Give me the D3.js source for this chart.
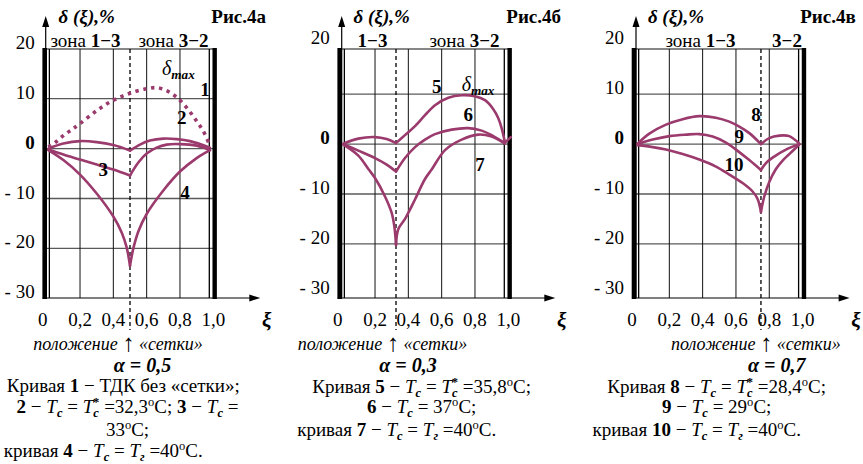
<!DOCTYPE html>
<html><head><meta charset="utf-8">
<script src="https://cdn.jsdelivr.net/npm/d3@7"></script>
<style>
body{margin:0;background:#fff}
svg{display:block}
</style>
</head><body>
<svg id="c" width="863" height="464" font-family="'Liberation Serif', 'Times New Roman', 'DejaVu Serif', serif"></svg>
<script>
// ---------- data ----------
const xTicks = [0, 0.2, 0.4, 0.6, 0.8, 1.0];
const xTickLabels = ["0", "0,2", "0,4", "0,6", "0,8", "1,0"];
const yTicksFull = [20, 10, 0, -10, -20, -30];
const yTickLabelsFull = ["20", "10", "0", "- 10", "- 20", "- 30"];
const yTicksB = [20, 0, -10, -20, -30];
const yTickLabelsB = ["20", "0", "- 10", "- 20", "- 30"];
const gridValues = [10, 0, -10, -20];
const figNames = ["Рис.4а", "Рис.4б", "Рис.4в"];
const alphaLabels = ["0,5", "0,3", "0,7"];
const gridPos = [0.5, 0.326, 0.75];

// Рис.4а
const curve1 = [[0.01,0.3],[0.05,1.2],[0.1,2.6],[0.15,3.8],[0.2,5.0],[0.3,7.6],[0.4,9.7],[0.5,11.1],[0.6,12.0],[0.66,12.2],[0.72,11.6],[0.78,10.3],[0.84,8.2],[0.9,5.5],[0.94,3.5],[0.98,0.6]];
const curve2 = [[0.01,0],[0.1,1.0],[0.2,1.5],[0.3,1.3],[0.4,0.7],[0.5,-0.4],[0.56,0.8],[0.62,1.6],[0.7,2.0],[0.78,1.9],[0.86,1.5],[0.98,0.2]];
const curve3 = [[0.01,-0.2],[0.1,-1.2],[0.2,-2.2],[0.3,-3.2],[0.4,-4.2],[0.5,-5.4],[0.55,-2.8],[0.6,-1.0],[0.66,0.2],[0.72,0.8],[0.8,0.9],[0.9,0.6],[0.98,-0.3]];
const curve4 = [[0.01,-0.3],[0.1,-2.3],[0.2,-5.2],[0.3,-9.0],[0.4,-13.6],[0.45,-16.8],[0.48,-19.8],[0.5,-23.5],[0.52,-20.0],[0.55,-16.6],[0.6,-13.1],[0.7,-8.4],[0.8,-4.6],[0.9,-1.9],[0.98,-0.3]];
// Рис.4б
const curve5 = [[0.01,0.1],[0.1,1.1],[0.2,1.4],[0.27,1.0],[0.326,0.2],[0.38,1.8],[0.44,3.6],[0.5,5.8],[0.56,7.8],[0.64,9.3],[0.72,9.8],[0.8,9.6],[0.86,8.8],[0.91,7.0],[0.94,5.2],[0.96,3.2],[0.98,0.3],[1.015,1.4]];
const curve6 = [[0.01,0],[0.1,-1.3],[0.2,-2.8],[0.27,-4.1],[0.326,-5.5],[0.38,-2.8],[0.44,-0.6],[0.5,0.9],[0.56,2.0],[0.66,2.9],[0.76,3.2],[0.84,2.7],[0.9,1.8],[0.98,0.2]];
const curve7 = [[0.01,-0.1],[0.1,-2.3],[0.16,-5.0],[0.2,-6.8],[0.26,-10.5],[0.3,-13.8],[0.316,-16.5],[0.326,-20.2],[0.34,-17.0],[0.38,-15.0],[0.44,-11.1],[0.5,-7.0],[0.54,-5.1],[0.62,-1.2],[0.72,0.9],[0.82,1.9],[0.9,1.5],[0.98,0.1]];
// Рис.4в
const curve8 = [[0.01,0.1],[0.08,2.1],[0.18,3.9],[0.28,5.0],[0.38,5.6],[0.48,5.3],[0.56,4.5],[0.62,3.5],[0.68,2.2],[0.75,0.0],[0.8,1.2],[0.86,1.7],[0.92,1.6],[0.98,0.1]];
const curve9 = [[0.01,0],[0.1,0.9],[0.2,1.6],[0.3,1.9],[0.38,2.0],[0.46,1.5],[0.54,0.3],[0.6,-1.1],[0.68,-3.2],[0.75,-5.2],[0.78,-3.8],[0.82,-2.7],[0.9,-1.1],[0.98,0]];
const curve10 = [[0.01,-0.2],[0.1,-0.6],[0.18,-1.1],[0.28,-2.0],[0.38,-3.1],[0.48,-4.5],[0.56,-6.1],[0.64,-7.8],[0.7,-9.5],[0.73,-11.0],[0.75,-13.6],[0.77,-10.5],[0.8,-7.6],[0.84,-5.0],[0.88,-3.3],[0.92,-2.0],[0.98,-0.1]];

const panelCurves = [[curve2, curve3, curve4], [curve5, curve6, curve7], [curve8, curve9, curve10]];
const curveNames = [["1","2","3","4"], ["5","6","7"], ["8","9","10"]];

// ---------- layout ----------
const svg = d3.select("#c");
const COL = "#9b3a6c";
const FRAME_TOP = 49, AXIS_Y = 298;
const panels = [
  {x0: 46.7, y20: 48.8, ticks: yTicksFull, tickLabels: yTickLabelsFull, yAxisDx: -1,
   zones: [{x: 85.5, parts: [["зона ",""],["1−3","b"]]}, {x: 173.5, parts: [["зона ",""],["3−2","b"]]}],
   dmax: [162, 75], nums: [[205,90],[181.7,118.3],[103.3,170],[185,193.3]],
   capX: 118, alphaX: 142.5},
  {x0: 341.7, y20: 44.3, ticks: yTicksB, tickLabels: yTickLabelsB, yAxisDx: 0,
   zones: [{x: 372.5, parts: [["1−3","b"]]}, {x: 464.5, parts: [["зона ",""],["3−2","b"]]}],
   dmax: [461.7, 91], nums: [[436.7,86.7],[468.3,115],[480,165]],
   capX: 382.5, alphaX: 408},
  {x0: 636, y20: 44.3, ticks: yTicksFull, tickLabels: yTickLabelsFull, yAxisDx: 0,
   zones: [{x: 700.5, parts: [["зона ",""],["1−3","b"]]}, {x: 787, parts: [["3−2","b"]]}],
   dmax: null, nums: [[756,115],[739.3,136.7],[734,165]],
   capX: 755.8, alphaX: 776.7}
];

function rich(g, x, y, parts, opts) {
  opts = opts || {};
  const fs = opts.fs || 18;
  const t = g.append("text").attr("x", x).attr("y", y)
    .attr("text-anchor", opts.anchor || "middle").attr("font-size", fs);
  let cur = 0;
  parts.forEach(p => {
    const [txt, st] = p;
    let shift = 0, size = fs, dx = 0;
    if (st.includes("sub")) { shift = fs * 0.2; size = fs * 0.66; }
    if (st.includes("sup")) { shift = -fs * 0.36; size = fs * 0.66; }
    if (st.includes("back")) { dx = -fs * 0.3; }
    if (st.includes("big")) { size = fs * 1.35; shift = fs * 0.08; }
    const ts = t.append("tspan").text(txt).attr("font-size", size).attr("dy", shift - cur);
    if (dx) ts.attr("dx", dx);
    cur = shift;
    if (st.includes("b")) ts.attr("font-weight", "bold");
    if (st.includes("i")) ts.attr("font-style", "italic");
  });
  return t;
}

panels.forEach((P, pi) => {
  const g = svg.append("g");
  const x = d3.scaleLinear().domain([0, 1]).range([P.x0, P.x0 + 166.6]);
  const y = d3.scaleLinear().domain([20, -30]).range([P.y20, P.y20 + 249.5]);

  g.selectAll(".hg").data(gridValues).join("line")
    .attr("x1", x(0)).attr("x2", x(1)).attr("y1", d => y(d)).attr("y2", d => y(d))
    .attr("stroke", "#5a5a5a").attr("stroke-width", 1.3);
  g.selectAll(".vg").data(xTicks.slice(1, 5)).join("line")
    .attr("x1", d => x(d)).attr("x2", d => x(d)).attr("y1", FRAME_TOP).attr("y2", AXIS_Y)
    .attr("stroke", "#111").attr("stroke-width", 1);
  g.append("line").attr("x1", x(0)).attr("x2", x(1)).attr("y1", FRAME_TOP).attr("y2", FRAME_TOP)
    .attr("stroke", "#111").attr("stroke-width", 1.2);
  g.append("line").attr("x1", x(0.016)).attr("x2", x(0.016)).attr("y1", FRAME_TOP).attr("y2", AXIS_Y)
    .attr("stroke", "#000").attr("stroke-width", 1.3);
  g.append("line").attr("x1", x(0.976)).attr("x2", x(0.976)).attr("y1", FRAME_TOP).attr("y2", AXIS_Y)
    .attr("stroke", "#000").attr("stroke-width", 1.3);
  g.append("rect").attr("x", x(0) - 4.3).attr("width", 4.6).attr("y", 48).attr("height", AXIS_Y - 47)
    .attr("fill", "#000");
  g.append("rect").attr("x", x(0.995)).attr("width", 4.4).attr("y", 48).attr("height", AXIS_Y - 47)
    .attr("fill", "#000");

  const ax = x(0) + P.yAxisDx;
  g.append("line").attr("x1", ax).attr("x2", ax).attr("y1", AXIS_Y).attr("y2", 24)
    .attr("stroke", "#000").attr("stroke-width", 1.2);
  g.append("path").attr("d", `M${ax},16 L${ax-3.5},27 L${ax+3.5},27 Z`).attr("fill", "#000");
  g.append("line").attr("x1", x(0) - 4).attr("x2", x(1) + 40).attr("y1", AXIS_Y).attr("y2", AXIS_Y)
    .attr("stroke", "#000").attr("stroke-width", 1.2);
  g.append("path").attr("d", `M${x(1)+47},${AXIS_Y} L${x(1)+36},${AXIS_Y-3.5} L${x(1)+36},${AXIS_Y+3.5} Z`).attr("fill", "#000");

  g.append("line").attr("x1", x(gridPos[pi])).attr("x2", x(gridPos[pi])).attr("y1", FRAME_TOP).attr("y2", 330)
    .attr("stroke", "#000").attr("stroke-width", 1.3).attr("stroke-dasharray", "4,3");

  g.selectAll(".yl").data(P.ticks).join("text")
    .attr("x", x(0) - 12).attr("y", d => y(d)).attr("text-anchor", "end").attr("font-size", 19)
    .attr("font-weight", d => d === 0 ? "bold" : "normal")
    .text((d, i) => P.tickLabels[i]);
  g.selectAll(".xl").data(xTicks).join("text")
    .attr("x", d => x(d) - (d === 0 ? 4 : 0)).attr("y", 326).attr("text-anchor", "middle").attr("font-size", 19)
    .text((d, i) => xTickLabels[i]);
  g.append("text").attr("x", x(0) + 220).attr("y", 327).attr("text-anchor", "middle")
    .attr("font-size", 21).attr("font-weight", "bold").attr("font-style", "italic").text("ξ");

  g.append("text").attr("x", x(0) + 40).attr("y", 23).attr("text-anchor", "middle").attr("font-size", 19)
    .attr("font-weight", "bold").attr("font-style", "italic").text("δ (ξ),%");
  g.append("text").attr("x", x(0) + 192).attr("y", 23).attr("text-anchor", "middle").attr("font-size", 19)
    .attr("font-weight", "bold").text(figNames[pi]);
  P.zones.forEach(z => rich(g, z.x, 47, z.parts, {fs: 19}));

  const line = d3.line().x(d => x(d[0])).y(d => y(d[1])).curve(d3.curveCatmullRom.alpha(0.5));
  const breaks = [gridPos[pi], 0.98];
  function segments(pts) {
    const segs = []; let cur = [];
    pts.forEach(p => {
      cur.push(p);
      if (breaks.some(b => Math.abs(b - p[0]) < 1e-6)) { segs.push(cur); cur = [p]; }
    });
    if (cur.length > 1) segs.push(cur);
    return segs;
  }
  if (pi === 0) {
    g.append("path").attr("d", line(curve1)).attr("fill", "none").attr("stroke", COL)
      .attr("stroke-width", 3.6).attr("stroke-dasharray", "3.4,4.6");
  }
  panelCurves[pi].forEach(c => {
    segments(c).forEach(s => {
      g.append("path").attr("d", line(s)).attr("fill", "none").attr("stroke", COL)
        .attr("stroke-width", 2.6).attr("stroke-linejoin", "miter").attr("stroke-linecap", "round");
    });
  });

  P.nums.forEach((n, i) => {
    g.append("text").attr("x", n[0]).attr("y", n[1] + 6).attr("text-anchor", "middle")
      .attr("font-size", 19).attr("font-weight", "bold").text(curveNames[pi][i]);
  });
  if (P.dmax) {
    rich(g, P.dmax[0], P.dmax[1], [["δ","i"],["max","i sub"]], {anchor: "start", fs: 20});
  }

  rich(g, P.capX, 350, [["положение ","i"],["↑","big"],[" «сетки»","i"]], {fs: 18});
  rich(g, P.alphaX, 372, [["α = " + alphaLabels[pi], "b i"]], {fs: 20});
});

const g2 = svg.append("g");
const Tc = [["T","i"],["c","i sub"]];
const Tcs = [["T","i"],["c","i sub"],["*","sup back"]];
const Tg = [["T","i"],["г","i sub"]];
const deg = [["o","sup"],["C",""]];
rich(g2, 123.3, 392, [["Кривая ",""],["1","b"],[" − ТДК без «сетки»;",""]], {fs: 19});
rich(g2, 127.5, 413, [["2","b"],[" − ",""],...Tc,[" = ",""],...Tcs,[" =32,3",""],...deg,[";  ",""],["3","b"],[" − ",""],...Tc,[" =",""]], {fs: 19});
rich(g2, 127.5, 436, [["33",""],...deg,[";",""]], {fs: 19});
rich(g2, 103.3, 457, [["кривая ",""],["4","b"],[" − ",""],...Tc,[" = ",""],...Tg,[" =40",""],...deg,[".",""]], {fs: 19});

rich(g2, 421.7, 393, [["Кривая ",""],["5","b"],[" − ",""],...Tc,[" = ",""],...Tcs,[" =35,8",""],...deg,[";",""]], {fs: 19});
rich(g2, 421.7, 413, [["6","b"],[" − ",""],...Tc,[" = 37",""],...deg,[";",""]], {fs: 19});
rich(g2, 396.7, 436, [["кривая ",""],["7","b"],[" − ",""],...Tc,[" = ",""],...Tg,[" =40",""],...deg,[".",""]], {fs: 19});

rich(g2, 716.7, 393, [["Кривая ",""],["8","b"],[" − ",""],...Tc,[" = ",""],...Tcs,[" =28,4",""],...deg,[";",""]], {fs: 19});
rich(g2, 716.7, 413, [["9","b"],[" − ",""],...Tc,[" = 29",""],...deg,[";",""]], {fs: 19});
rich(g2, 696.7, 436, [["кривая ",""],["10","b"],[" − ",""],...Tc,[" = ",""],...Tg,[" =40",""],...deg,[".",""]], {fs: 19});
</script>
</body></html>
